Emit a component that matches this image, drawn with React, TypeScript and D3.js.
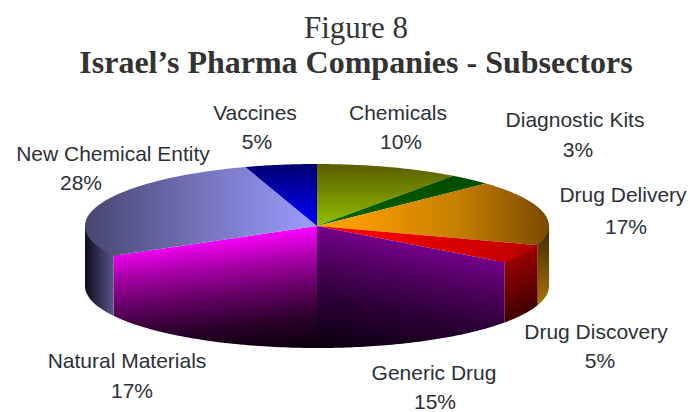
import React from "react";
import * as d3 from "d3";

const categories = ["Chemicals", "Diagnostic Kits", "Drug Delivery", "Drug Discovery", "Generic Drug", "Natural Materials", "New Chemical Entity", "Vaccines"];
const shares = [10, 3, 17, 5, 15, 17, 28, 5];

const width = 690;
const height = 412;
const cx = 317;
const cy = 226;
const rx = 232;
const ry = 62;
const depth = 60;

// Baseline positions of each callout: name line, then percentage line.
const nameAnchors: [number, number][] = [[398, 120], [575, 127], [623, 202], [596, 339], [434, 380], [127, 368], [113, 161], [255, 120]];
const valueAnchors: [number, number][] = [[401, 149], [578, 157], [626, 234], [600, 368], [435, 409], [132, 398], [81, 190], [257, 149]];

type Ramp = { from: [number, number]; to: [number, number]; stops: [number, string][] };

// Paint for the upper face of each slice.
const facePaint: Ramp[] = [
  { from: [0, 164], to: [0, 226], stops: [[0, "#5c5c00"], [1, "#8fc000"]] },
  { from: [0, 176], to: [0, 226], stops: [[0, "#004a00"], [1, "#006400"]] },
  { from: [340, 0], to: [549, 0], stops: [[0, "#ffa000"], [0.55, "#c88000"], [1, "#7a4c00"]] },
  { from: [340, 230], to: [537, 290], stops: [[0, "#ff0000"], [0.8, "#c80000"], [1, "#a00000"]] },
  { from: [317, 226], to: [295, 342], stops: [[0, "#74008a"], [0.3, "#4c005a"], [0.6, "#2a0034"], [1, "#0a000f"]] },
  { from: [317, 226], to: [330, 344], stops: [[0, "#ff00ff"], [0.25, "#a800a8"], [0.5, "#640064"], [0.75, "#2c002c"], [1, "#0a000a"]] },
  { from: [85, 0], to: [317, 0], stops: [[0, "#46466e"], [0.5, "#7474bc"], [1, "#9c9cff"]] },
  { from: [0, 164], to: [0, 226], stops: [[0, "#000070"], [1, "#0000ff"]] },
];

// Paint for the visible rim of each slice; the front slices continue their face ramp.
const wallPaint: (Ramp | null)[] = [
  null,
  null,
  { from: [0, 225], to: [0, 305], stops: [[0, "#3c2800"], [1, "#a87000"]] },
  { from: [505, 245], to: [537, 320], stops: [[0, "#b00000"], [0.6, "#640000"], [1, "#300000"]] },
  facePaint[4],
  facePaint[5],
  { from: [85, 0], to: [115, 0], stops: [[0, "#0c0c18"], [1, "#5a5a90"]] },
  null,
];

const slices = d3.pie<number>().sort(null).value((d) => d)(shares);
const toX = (a: number) => cx + rx * Math.sin(a);
const toY = (a: number) => cy - ry * Math.cos(a);
const outline = d3.line<[number, number]>();

function sweep(start: number, end: number, n: number) {
  return d3.range(0, n + 1).map((k) => start + ((end - start) * k) / n);
}

// Only the front half of the rim faces the viewer (90 to 270 degrees clockwise from the top).
// The upper edge tucks under the face so no seam shows where the two meet.
function wallPath(start: number, end: number) {
  const from = Math.max(start, Math.PI / 2);
  const to = Math.min(end, (3 * Math.PI) / 2);
  if (to <= from) return null;
  const angles = sweep(from, to, 60);
  const upper = angles.map((a) => [toX(a), toY(a) - 3] as [number, number]);
  const lower = [...angles].reverse().map((a) => [toX(a), toY(a) + depth] as [number, number]);
  return outline([...upper, ...lower])! + "Z";
}

function facePath(start: number, end: number) {
  const rim = sweep(start, end, 48).map((a) => [toX(a), toY(a)] as [number, number]);
  return outline([[cx, cy], ...rim])! + "Z";
}

function Gradient({ id, ramp }: { id: string; ramp: Ramp }) {
  return (
    <linearGradient id={id} gradientUnits="userSpaceOnUse" x1={ramp.from[0]} y1={ramp.from[1]} x2={ramp.to[0]} y2={ramp.to[1]}>
      {ramp.stops.map(([o, c]) => (
        <stop key={o} offset={o} stopColor={c} />
      ))}
    </linearGradient>
  );
}

export default function App() {
  return (
    <svg width={width} height={height} style={{ position: "absolute", left: 0, top: 0, background: "#fff" }}>
      <defs>
        {facePaint.map((r, i) => (
          <Gradient key={i} id={`face${i}`} ramp={r} />
        ))}
        {wallPaint.map((r, i) => (r ? <Gradient key={i} id={`wall${i}`} ramp={r} /> : null))}
      </defs>

      <text x={356} y={38} textAnchor="middle" fontFamily="'Liberation Serif', serif" fontSize={31} fill="#333">Figure 8</text>
      <text x={356} y={73} textAnchor="middle" fontFamily="'Liberation Serif', serif" fontWeight="bold" fontSize={32} fill="#333">Israel’s Pharma Companies - Subsectors</text>

      {slices.map((s, i) => {
        const d = wallPath(s.startAngle, s.endAngle);
        return d && wallPaint[i] ? <path key={i} d={d} fill={`url(#wall${i})`} /> : null;
      })}
      {slices.map((s, i) => (
        <path key={i} d={facePath(s.startAngle, s.endAngle)} fill={`url(#face${i})`} />
      ))}

      {categories.map((name, i) => (
        <g key={name} textAnchor="middle" fontFamily="'Liberation Sans', sans-serif" fontSize={21} fill="#2c3038">
          <text x={nameAnchors[i][0]} y={nameAnchors[i][1]}>{name}</text>
          <text x={valueAnchors[i][0]} y={valueAnchors[i][1]}>{shares[i]}%</text>
        </g>
      ))}
    </svg>
  );
}
